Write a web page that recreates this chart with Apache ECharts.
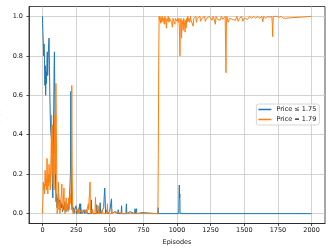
<!DOCTYPE html>
<html>
<head>
<meta charset="utf-8">
<script src="https://cdn.jsdelivr.net/npm/echarts@6/dist/echarts.min.js"></script>
<style>html,body{margin:0;padding:0;background:#fff}#c{width:332px;height:249px}</style>
</head>
<body>
<div id="c"></div>
<script>
const xTicks = [0, 250, 500, 750, 1000, 1250, 1500, 1750, 2000];
const yTicks = [0, 0.2, 0.4, 0.6, 0.8, 1.0];
const seriesNames = ['Price \u2264 1.75', 'Price = 1.79'];

const blueEpisodes = [0,3,6,9,12,15,18,21,24,27,30,33,36,39,42,45,49,52,55,58,61,64,67,70,73,77,80,84,87,89,92,95,98,101,105,108,112,116,120,124,128,132,136,140,145,150,155,160,165,170,175,180,185,190,193,197,200,204,208,211,214,217,220,224,228,232,236,240,245,250,254,258,262,266,270,274,277,280,284,287,292,296,300,305,310,314,320,325,330,334,340,345,350,360,363,366,372,376,385,390,400,404,408,418,422,429,433,440,444,455,460,463,466,469,480,484,500,504,510,513,516,530,535,540,560,563,566,585,588,591,620,624,627,650,653,686,688,690,697,699,701,740,744,858,860,862,1013,1015,1017,1019,1021,1023,2000];
const blueValues = [1.0,0.93,0.87,0.8,0.86,0.78,0.65,0.75,0.6,0.72,0.66,0.76,0.82,0.7,0.78,0.84,0.89,0.75,0.6,0.5,0.42,0.4,0.38,0.3,0.2,0.08,0.3,0.55,0.75,0.82,0.6,0.35,0.15,0.06,0.1,0.03,0.08,0.05,0.1,0.04,0.07,0.02,0.06,0.03,0.05,0.01,0.04,0.02,0.06,0.03,0.01,0.05,0.02,0.04,0.05,0.02,0.03,0.01,0.2,0.62,0.35,0.05,0.02,0.04,0.01,0.03,0,0.02,0.01,0.04,0,0.02,0,0.01,0,0.03,0.05,0,0.05,0,0.02,0,0.01,0,0.02,0,0.01,0,0.02,0,0.01,0,0,0,0.07,0,0.02,0,0.01,0,0,0.045,0,0.02,0,0.055,0,0.01,0,0.03,0.1,0.13,0.08,0,0.02,0,0.01,0,0,0.075,0,0,0.01,0,0,0.02,0,0,0.04,0,0,0.05,0,0.01,0,0,0.025,0,0,0.025,0,0.005,0,0,0.03,0,0,0.1,0.145,0.08,0.1,0,0];

const orangeEpisodes = [0,4,7,10,13,16,20,23,26,30,34,37,40,43,46,49,52,55,58,61,64,68,72,76,80,83,86,89,92,96,100,103,106,109,112,116,119,122,126,130,134,138,141,144,147,150,155,160,163,168,172,176,180,185,190,195,200,205,210,214,218,221,224,228,232,236,245,250,258,263,267,270,275,280,290,295,300,305,320,325,338,341,344,347,350,354,357,368,371,374,390,394,397,400,415,419,422,440,445,448,480,483,486,495,498,512,515,518,540,544,600,604,607,858,861,864,867,870,874,878,882,886,890,895,900,905,910,915,919,922,925,930,935,940,945,950,955,960,966,970,975,980,984,988,992,996,1000,1005,1010,1015,1019,1022,1025,1030,1034,1037,1042,1046,1050,1055,1060,1064,1068,1072,1076,1080,1085,1090,1095,1100,1105,1110,1115,1120,1125,1130,1140,1145,1150,1160,1170,1175,1185,1195,1205,1210,1220,1230,1240,1250,1260,1270,1280,1285,1290,1300,1310,1320,1330,1340,1350,1358,1361,1364,1367,1370,1380,1390,1400,1410,1420,1435,1445,1455,1465,1480,1490,1500,1510,1525,1540,1555,1570,1585,1600,1615,1630,1637,1645,1660,1675,1690,1705,1709,1711,1713,1716,1730,1745,1760,1775,1790,1800,2000];
const orangeValues = [0,0.08,0.16,0.12,0.15,0.1,0.22,0.14,0.18,0.12,0.28,0.18,0.1,0.2,0.14,0.25,0.16,0.2,0.12,0.22,0.3,0.5,0.2,0.45,0.15,0.28,0.12,0.3,0.5,0.2,0.66,0.45,0.2,0,0.02,0.05,0.16,0.02,0.06,0,0.04,0.08,0.1,0.15,0.05,0.02,0.06,0.13,0.03,0,0.04,0.08,0.02,0.05,0.01,0.08,0.03,0.1,0.05,0.2,0.65,0.25,0.03,0,0.02,0,0.01,0,0.02,0,0.03,0,0.01,0,0.02,0,0.01,0,0.02,0,0,0.05,0.02,0.08,0.1,0.16,0,0,0.02,0,0,0.083,0.03,0,0,0.04,0,0,0.02,0,0,0.05,0,0.01,0,0,0.02,0,0.01,0,0,0.01,0,0,0.3,0.75,1.0,0.98,1.0,0.965,0.99,0.97,1.0,0.975,0.99,0.96,1.0,0.98,0.99,0.94,0.99,0.975,1.0,0.97,0.99,0.98,1.0,0.97,0.945,0.99,0.98,1.0,0.96,0.99,0.98,1.0,0.975,0.99,0.97,0.99,0.9,0.8,0.97,0.99,0.89,0.98,0.96,0.93,0.99,0.97,0.92,0.98,0.94,0.99,0.97,1.0,0.975,0.99,0.97,1.0,0.98,0.99,0.975,0.95,0.99,0.98,1.0,0.97,0.99,0.98,1.0,0.975,0.99,0.98,1.0,0.975,0.99,0.985,1.0,0.99,0.98,1.0,0.99,0.96,1.0,0.985,0.99,0.98,1.0,0.985,0.99,1.0,0.85,0.714,0.95,1.0,0.97,0.99,1.0,0.985,0.99,0.98,1.0,0.975,0.99,1.0,0.975,0.99,1.0,0.985,1.0,0.99,1.0,0.99,1.0,0.99,1.0,0.973,1.0,0.99,1.0,0.995,1.0,0.95,0.897,0.96,1.0,0.99,1.0,0.995,1.0,0.99,1.0,1.0];

const font = 'DejaVu Sans';
const pairs = (xs, ys) => xs.map((x, i) => [x, ys[i]]);

const chart = echarts.init(document.getElementById('c'), null, {renderer: 'canvas'});
chart.setOption({
  animation: false,
  backgroundColor: '#ffffff',
  textStyle: {fontFamily: font},
  grid: {left: 29, right: 7, top: 6.5, bottom: 25.5, show: true, borderColor: '#222', borderWidth: 0.8, containLabel: false, outerBoundsMode: 'none'},
  legend: {
    data: seriesNames,
    orient: 'vertical',
    right: 12.7, top: 104,
    padding: [1.5, 3, 1.5, 2],
    itemGap: 2,
    itemWidth: 13, itemHeight: 1.5,
    icon: 'rect',
    backgroundColor: 'rgba(255,255,255,0.8)',
    borderColor: '#cccccc', borderWidth: 0.8, borderRadius: 2,
    textStyle: {fontFamily: font, fontSize: 6.5, color: '#111', lineHeight: 8}
  },
  xAxis: {
    type: 'value', min: -100, max: 2100,
    name: 'Episodes', nameLocation: 'middle', nameGap: 12,
    nameTextStyle: {fontFamily: font, fontSize: 6.5, color: '#111'},
    axisLine: {show: true, onZero: false, lineStyle: {color: '#222', width: 0.8}},
    axisTick: {show: true, length: 2.5, customValues: xTicks, lineStyle: {color: '#222', width: 0.8}},
    axisLabel: {customValues: xTicks, fontFamily: font, fontSize: 6.5, color: '#111', margin: 3, formatter: v => String(v)},
    splitLine: {show: true, customValues: xTicks, lineStyle: {color: '#c8c8c8', width: 0.8}}
  },
  yAxis: {
    type: 'value', min: -0.05, max: 1.05,
    name: 'Percent', nameLocation: 'middle', nameGap: 21, nameRotate: 90,
    nameTextStyle: {fontFamily: font, fontSize: 6.5, color: '#111'},
    axisLine: {show: true, onZero: false, lineStyle: {color: '#222', width: 0.8}},
    axisTick: {show: true, length: 2.5, customValues: yTicks, lineStyle: {color: '#222', width: 0.8}},
    axisLabel: {customValues: yTicks, fontFamily: font, fontSize: 6.5, color: '#111', margin: 6, formatter: v => v.toFixed(1)},
    splitLine: {show: true, customValues: yTicks, lineStyle: {color: '#c8c8c8', width: 0.8}}
  },
  series: [
    {name: seriesNames[0], type: 'line', data: pairs(blueEpisodes, blueValues), symbol: 'none', showSymbol: false, color: '#1f77b4', lineStyle: {width: 1, color: '#1f77b4'}, z: 2},
    {name: seriesNames[1], type: 'line', data: pairs(orangeEpisodes, orangeValues), symbol: 'none', showSymbol: false, color: '#ff7f0e', lineStyle: {width: 1, color: '#ff7f0e'}, z: 3}
  ]
});
</script>
</body>
</html>
